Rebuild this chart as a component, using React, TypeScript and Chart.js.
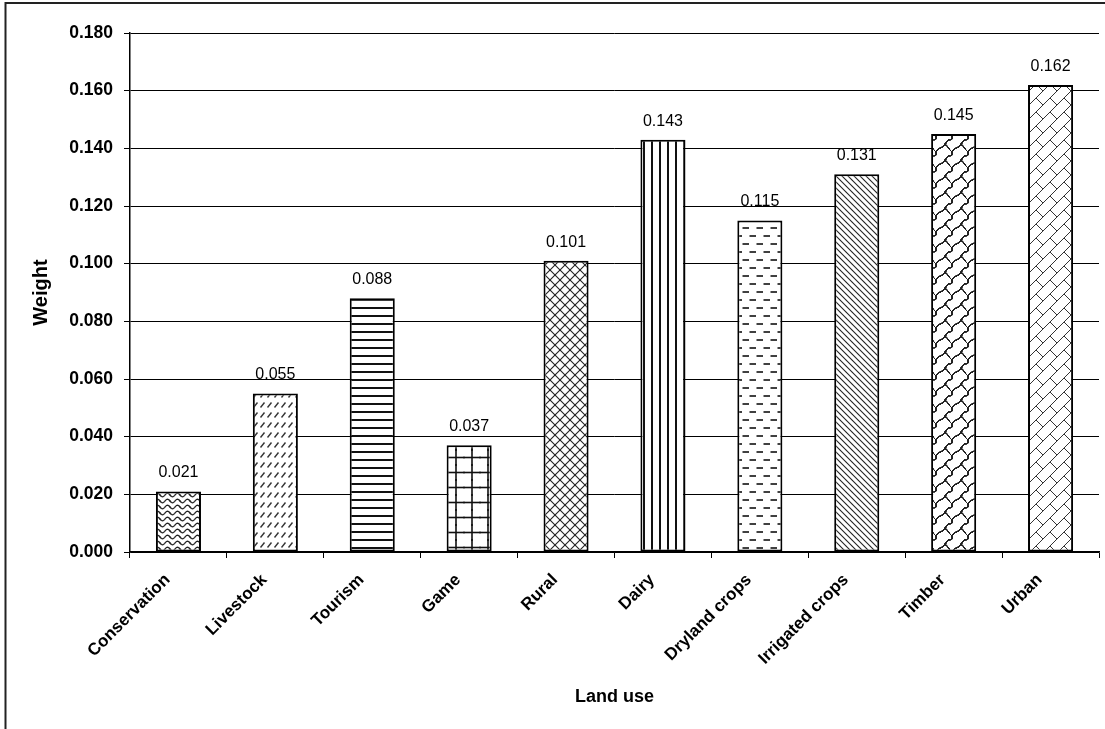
import { useEffect, useRef } from "react";
import { Chart, registerables } from "chart.js";

Chart.register(...registerables);

const categories = [
  "Conservation",
  "Livestock",
  "Tourism",
  "Game",
  "Rural",
  "Dairy",
  "Dryland crops",
  "Irrigated crops",
  "Timber",
  "Urban",
];
const weights = [0.021, 0.055, 0.088, 0.037, 0.101, 0.143, 0.115, 0.131, 0.145, 0.162];
const patternKinds = [
  "waves",
  "slashDashes",
  "hLines",
  "grid",
  "diamond",
  "vLines",
  "hDashes",
  "backDiag",
  "weave",
  "brick",
];
const yTickLabels = ["0.000", "0.020", "0.040", "0.060", "0.080", "0.100", "0.120", "0.140", "0.160", "0.180"];
const yTitle = "Weight";
const xTitle = "Land use";

const FONT = "'Liberation Sans', Arial, Helvetica, sans-serif";

function makePattern(kind: string): CanvasPattern | string {
  const c = document.createElement("canvas");
  let w = 10;
  let h = 10;
  let draw: (ctx: CanvasRenderingContext2D) => void = () => {};
  const line = (ctx: CanvasRenderingContext2D, x1: number, y1: number, x2: number, y2: number) => {
    ctx.beginPath();
    ctx.moveTo(x1, y1);
    ctx.lineTo(x2, y2);
    ctx.stroke();
  };
  switch (kind) {
    case "waves":
      w = 10; h = 6;
      draw = (ctx) => {
        ctx.lineWidth = 1.2; ctx.strokeStyle = "#222";
        ctx.beginPath();
        for (let px = -1; px <= w + 1; px += 0.5) {
          const y = 3 + 1.8 * Math.sin((2 * Math.PI * px) / 10);
          if (px === -1) ctx.moveTo(px, y); else ctx.lineTo(px, y);
        }
        ctx.stroke();
      };
      break;
    case "slashDashes":
      w = 7; h = 10;
      draw = (ctx) => {
        ctx.lineWidth = 1.4; ctx.strokeStyle = "#333";
        line(ctx, 1.5, 7.5, 5.5, 2.5);
      };
      break;
    case "hLines":
      w = 4; h = 8;
      draw = (ctx) => {
        ctx.lineWidth = 2; ctx.strokeStyle = "#111";
        line(ctx, -1, 4, w + 1, 4);
      };
      break;
    case "grid":
      w = 16; h = 15;
      draw = (ctx) => {
        ctx.lineWidth = 1.6; ctx.strokeStyle = "#111";
        line(ctx, 8, -1, 8, h + 1);
        line(ctx, -1, 7.5, w + 1, 7.5);
      };
      break;
    case "diamond":
      w = 10; h = 10;
      draw = (ctx) => {
        ctx.lineWidth = 1.1; ctx.strokeStyle = "#222";
        line(ctx, 0, 0, 10, 10);
        line(ctx, 10, 0, 0, 10);
      };
      break;
    case "vLines":
      w = 8; h = 4;
      draw = (ctx) => {
        ctx.lineWidth = 2; ctx.strokeStyle = "#111";
        line(ctx, 4, -1, 4, h + 1);
      };
      break;
    case "hDashes":
      w = 14; h = 16;
      draw = (ctx) => {
        ctx.lineWidth = 1.6; ctx.strokeStyle = "#111";
        line(ctx, 0.5, 4, 7, 4);
        line(ctx, 7.5, 12, 14, 12);
      };
      break;
    case "backDiag":
      w = 6; h = 6;
      draw = (ctx) => {
        ctx.lineWidth = 1.1; ctx.strokeStyle = "#222";
        line(ctx, 0, 0, 6, 6);
      };
      break;
    case "weave":
      w = 32; h = 32;
      draw = (ctx) => {
        ctx.lineWidth = 1; ctx.strokeStyle = "#222";
        for (let k = -3; k <= 7; k++) {
          const c0 = 16 * k;
          const par = ((k % 2) + 2) % 2;
          for (let m = -5; m <= 5; m++) {
            const d = 32 * m + 16 * par;
            const a = (c0 + d) / 2;
            const b = c0 - a;
            ctx.beginPath();
            ctx.moveTo(a - 8, b + 8);
            ctx.bezierCurveTo(a - 5, b + 2, a - 1, b + 6, a + 3, b - 3);
            ctx.stroke();
            ctx.beginPath();
            ctx.moveTo(a + 3, b - 3);
            ctx.bezierCurveTo(a + 6, b - 6, a + 9, b - 2, a + 8, b - 8);
            ctx.stroke();
            ctx.beginPath();
            ctx.moveTo(a, b);
            ctx.bezierCurveTo(a + 4, b + 1, a + 4, b + 5, a + 8, b + 8);
            ctx.stroke();
          }
        }
      };
      break;
    case "brick":
      w = 28; h = 28;
      draw = (ctx) => {
        ctx.lineWidth = 1; ctx.strokeStyle = "#333";
        for (let k = -3; k <= 7; k++) {
          const c0 = 14 * k;
          line(ctx, c0 + 40, -40, c0 - 40, 40);
          const par = ((k % 2) + 2) % 2;
          for (let m = -4; m <= 4; m++) {
            const d = 28 * m + 14 * par;
            const a = (c0 + d) / 2;
            const b = c0 - a;
            line(ctx, a, b, a + 7, b + 7);
          }
        }
      };
      break;
  }
  c.width = w;
  c.height = h;
  const ctx = c.getContext("2d");
  if (!ctx) return "#fff";
  ctx.fillStyle = "#fff";
  ctx.fillRect(0, 0, w, h);
  ctx.lineCap = "butt";
  for (const ox of [-w, 0, w]) {
    for (const oy of [-h, 0, h]) {
      ctx.save();
      ctx.translate(ox, oy);
      draw(ctx);
      ctx.restore();
    }
  }
  return ctx.createPattern(c, "repeat") || "#fff";
}

const framePlugin = {
  id: "frame",
  beforeDraw(chart: any) {
    const ctx = chart.ctx as CanvasRenderingContext2D;
    ctx.save();
    ctx.fillStyle = "#fff";
    ctx.fillRect(0, 0, chart.width, chart.height);
    ctx.strokeStyle = "#222";
    ctx.lineWidth = 2;
    ctx.beginPath();
    ctx.moveTo(5.5, chart.height + 2);
    ctx.lineTo(5.5, 3);
    ctx.lineTo(chart.width + 2, 3);
    ctx.stroke();
    ctx.restore();
  },
};

const valueLabelPlugin = {
  id: "valueLabels",
  afterDatasetsDraw(chart: any) {
    const ctx = chart.ctx as CanvasRenderingContext2D;
    const meta = chart.getDatasetMeta(0);
    const data = chart.data.datasets[0].data as number[];
    ctx.save();
    ctx.font = `16px ${FONT}`;
    ctx.fillStyle = "#000";
    ctx.textAlign = "center";
    ctx.textBaseline = "alphabetic";
    meta.data.forEach((bar: any, i: number) => {
      ctx.fillText(data[i].toFixed(3), bar.x, bar.y - 14);
    });
    ctx.restore();
  },
};

export default function App() {
  const canvasRef = useRef<HTMLCanvasElement | null>(null);

  useEffect(() => {
    const canvas = canvasRef.current;
    if (!canvas) return;
    const patterns = patternKinds.map((k) => makePattern(k));
    const chart = new Chart(canvas, {
      type: "bar",
      data: {
        labels: categories,
        datasets: [
          {
            label: yTitle,
            data: weights,
            backgroundColor: patterns as any,
            borderColor: "#000",
            borderWidth: 2,
            borderSkipped: false,
            barPercentage: 0.465,
            categoryPercentage: 1.0,
          },
        ],
      },
      options: {
        responsive: false,
        animation: false,
        layout: { padding: { left: 0, top: 33, right: 6, bottom: 0 } },
        plugins: {
          legend: { display: false },
          tooltip: { enabled: false },
          title: { display: false },
        },
        scales: {
          x: {
            type: "category",
            offset: true,
            grid: {
              display: true,
              drawOnChartArea: false,
              drawTicks: true,
              tickLength: 6,
              color: "#000",
              lineWidth: 1,
              offset: true,
            },
            border: { display: true, color: "#000", width: 1.5 },
            ticks: {
              color: "#000",
              font: { family: FONT, size: 17, weight: "bold" },
              maxRotation: 45,
              minRotation: 45,
              autoSkip: false,
              padding: 12,
              labelOffset: -11,
            },
            title: {
              display: true,
              text: xTitle,
              color: "#000",
              font: { family: FONT, size: 18, weight: "bold" },
              padding: { top: 0, bottom: 21 },
            },
            afterFit: (s: any) => {
              s.height = 729 - 552;
            },
          },
          y: {
            min: 0,
            max: 0.18,
            ticks: {
              stepSize: 0.02,
              color: "#000",
              font: { family: FONT, size: 17.5, weight: "bold" },
              padding: 11,
              callback: (_v: any, i: number) => yTickLabels[i],
            },
            grid: { color: "#000", lineWidth: 1, tickLength: 6, drawTicks: true },
            border: { display: true, color: "#000", width: 1.5 },
            title: {
              display: true,
              text: yTitle,
              color: "#000",
              font: { family: FONT, size: 20, weight: "bold" },
              padding: { top: 29, bottom: 0 },
            },
            afterFit: (s: any) => {
              s.width = 130;
            },
          },
        },
      } as any,
      plugins: [framePlugin, valueLabelPlugin],
    });
    return () => chart.destroy();
  }, []);

  return (
    <div style={{ position: "absolute", left: 0, top: 0, width: 1105, height: 729, background: "#fff" }}>
      <canvas ref={canvasRef} width={1105} height={729} style={{ display: "block" }} />
    </div>
  );
}
